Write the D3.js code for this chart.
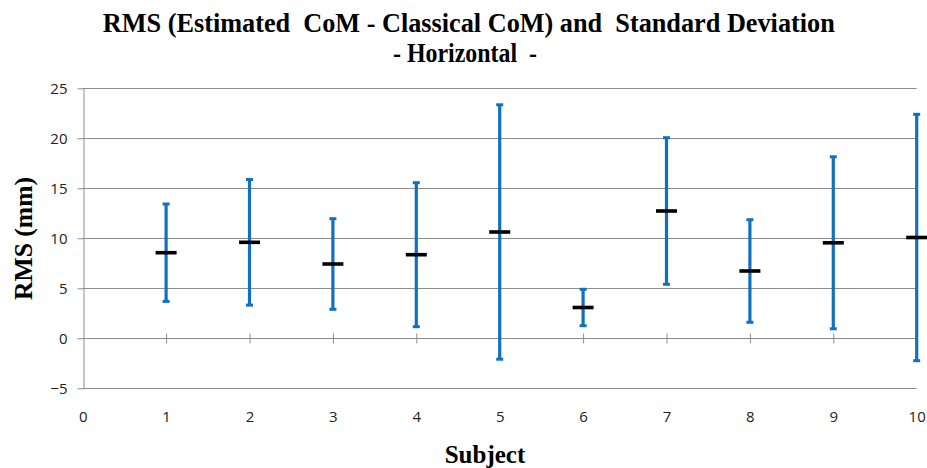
<!DOCTYPE html>
<html>
<head>
<meta charset="utf-8">
<script src="https://cdn.jsdelivr.net/npm/d3@7"></script>
<style>
  body { margin: 0; background: #fff; }
  svg { display: block; }
</style>
</head>
<body>
<svg id="chart" width="927" height="468"></svg>
<script>
// values
let subjects = [1, 2, 3, 4, 5, 6, 7, 8, 9, 10];
let rmsMean = [8.56, 9.6, 7.43, 8.36, 10.63, 3.08, 12.73, 6.73, 9.55, 10.08];
let rmsSd = [4.87, 6.28, 4.53, 7.2, 12.72, 1.82, 7.33, 5.13, 8.6, 12.32];
let xTicks = [0, 1, 2, 3, 4, 5, 6, 7, 8, 9, 10];
let yTicks = [-5, 0, 5, 10, 15, 20, 25];

let svg = d3.select("#chart");

let x = d3.scaleLinear().domain([0, 10]).range([82.7, 916.7]);
let y = d3.scaleLinear().domain([-5, 25]).range([388.3, 88.3]);

let gridColor = "#8c8c8c";
let barColor = "#1170c0";
let tickFont = "'Open Sans', 'Liberation Sans', sans-serif";
let titleFont = "'Liberation Serif', 'Times New Roman', serif";

// horizontal grid
svg.append("g")
    .selectAll("line")
    .data(yTicks)
    .enter().append("line")
    .attr("x1", x(0))
    .attr("x2", x(10))
    .attr("y1", d => Math.round(y(d)) + 0.5)
    .attr("y2", d => Math.round(y(d)) + 0.5)
    .style("stroke", gridColor)
    .style("stroke-width", 1);

// y axis
let yAxis = svg.append("g")
    .attr("transform", "translate(" + (Math.round(x(0)) + 0.5) + ",0)")
    .call(d3.axisLeft(y).tickValues(yTicks).tickSize(6).tickPadding(10).tickSizeOuter(0));
yAxis.select(".domain").style("stroke", gridColor);
yAxis.selectAll(".tick line").style("stroke", gridColor);
yAxis.selectAll(".tick text")
    .style("font-family", tickFont)
    .style("font-size", "15px")
    .style("fill", "#222");

// axis through zero with crossing ticks
let zeroAxis = svg.append("g")
    .attr("transform", "translate(0," + (Math.round(y(0)) + 0.5) + ")")
    .call(d3.axisBottom(x).tickValues(subjects).tickSize(5).tickFormat("").tickSizeOuter(0));
zeroAxis.select(".domain").remove();
zeroAxis.selectAll(".tick line").attr("y1", -5).attr("y2", 5).style("stroke", gridColor);

// x tick labels sit below the plot
let xLabels = svg.append("g")
    .attr("transform", "translate(0," + y(-5) + ")")
    .call(d3.axisBottom(x).tickValues(xTicks).tickSize(0));
xLabels.select(".domain").remove();
xLabels.selectAll(".tick text")
    .attr("y", 33.6)
    .attr("dy", null)
    .style("font-family", tickFont)
    .style("font-size", "15px")
    .style("fill", "#222");

// error bars
let bars = svg.append("g")
    .selectAll("g")
    .data(subjects)
    .enter().append("g");

bars.append("line")
    .attr("x1", (d) => x(d))
    .attr("x2", (d) => x(d))
    .attr("y1", (d, i) => y(rmsMean[i] + rmsSd[i]))
    .attr("y2", (d, i) => y(rmsMean[i] - rmsSd[i]))
    .style("stroke", barColor)
    .style("stroke-width", 3.2);

bars.append("line")
    .attr("x1", (d) => x(d) - 3.5)
    .attr("x2", (d) => x(d) + 3.5)
    .attr("y1", (d, i) => y(rmsMean[i] + rmsSd[i]))
    .attr("y2", (d, i) => y(rmsMean[i] + rmsSd[i]))
    .style("stroke", barColor)
    .style("stroke-width", 3);

bars.append("line")
    .attr("x1", (d) => x(d) - 3.5)
    .attr("x2", (d) => x(d) + 3.5)
    .attr("y1", (d, i) => y(rmsMean[i] - rmsSd[i]))
    .attr("y2", (d, i) => y(rmsMean[i] - rmsSd[i]))
    .style("stroke", barColor)
    .style("stroke-width", 3);

// mean markers
bars.append("line")
    .attr("x1", (d) => x(d) - 10.5)
    .attr("x2", (d) => x(d) + 10.5)
    .attr("y1", (d, i) => y(rmsMean[i]))
    .attr("y2", (d, i) => y(rmsMean[i]))
    .style("stroke", "#000")
    .style("stroke-width", 3.6);

// titles
svg.append("text")
    .attr("x", 468.8)
    .attr("y", 32.3)
    .attr("text-anchor", "middle")
    .attr("textLength", 732)
    .attr("lengthAdjust", "spacingAndGlyphs")
    .style("font-family", titleFont)
    .style("font-weight", "bold")
    .style("font-size", "27px")
    .style("fill", "#000")
    .text("RMS (Estimated\u00a0 CoM - Classical CoM) and\u00a0 Standard Deviation");

svg.append("text")
    .attr("x", 465)
    .attr("y", 62.3)
    .attr("text-anchor", "middle")
    .attr("textLength", 144)
    .attr("lengthAdjust", "spacingAndGlyphs")
    .style("font-family", titleFont)
    .style("font-weight", "bold")
    .style("font-size", "27px")
    .style("fill", "#000")
    .text("- Horizontal\u00a0 -");

svg.append("text")
    .attr("x", 485)
    .attr("y", 463)
    .attr("text-anchor", "middle")
    .style("font-family", titleFont)
    .style("font-weight", "bold")
    .style("font-size", "25px")
    .style("fill", "#000")
    .text("Subject");

svg.append("text")
    .attr("transform", "translate(31.7,238.5) rotate(-90)")
    .attr("text-anchor", "middle")
    .attr("textLength", 123)
    .attr("lengthAdjust", "spacingAndGlyphs")
    .style("font-family", titleFont)
    .style("font-weight", "bold")
    .style("font-size", "26px")
    .style("fill", "#000")
    .text("RMS (mm)");
</script>
</body>
</html>
